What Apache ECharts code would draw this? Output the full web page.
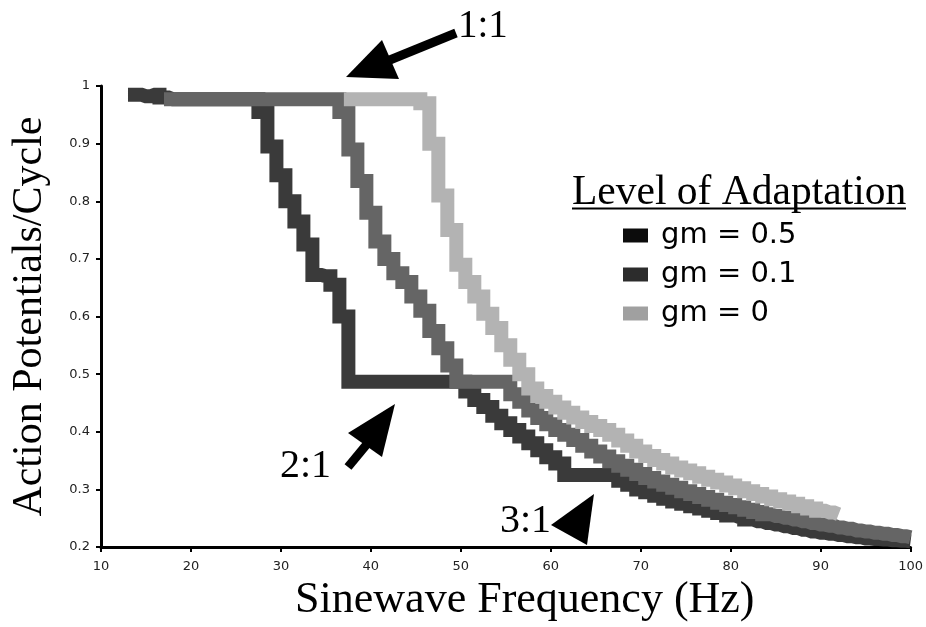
<!DOCTYPE html>
<html><head><meta charset="utf-8">
<script src="https://cdn.jsdelivr.net/npm/echarts@6/dist/echarts.min.js"></script>
<style>html,body{margin:0;padding:0;background:#fff}#c{width:926px;height:627px}</style>
</head><body><div id="c"></div>
<script>
// ---- data ----
const xTicks = [10, 20, 30, 40, 50, 60, 70, 80, 90, 100];
const yTicks = [0.2, 0.3, 0.4, 0.5, 0.6, 0.7, 0.8, 0.9, 1];
const seriesNames = ['gm = 0.5', 'gm = 0.1', 'gm = 0'];

const freqGm05 = [13,14,15,16,17,18,19,20,21,22,23,24,25,26,27,28,29,30,31,32,33,34,35,36,37,38,39,40,41,42,43,44,45,46,47,48,49,50,51,52,53,54,55,56,57,58,59,60,61,62,63,64,65,66,67,68,69,70,71,72,73,74,75,76,77,78,79,80,81,82,83,84,85,86,87,88,89,90,91,92,93,94,95,96,97,98,99,100];
const apcGm05 = [0.985,0.985,0.982,0.985,0.98,0.977,0.977,0.977,0.977,0.977,0.977,0.977,0.977,0.977,0.977,0.955,0.895,0.845,0.80,0.765,0.725,0.672,0.670,0.655,0.60,0.487,0.487,0.487,0.487,0.487,0.487,0.487,0.487,0.487,0.487,0.487,0.487,0.487,0.47,0.455,0.443,0.428,0.415,0.403,0.392,0.38,0.368,0.356,0.345,0.325,0.325,0.325,0.325,0.325,0.325,0.315,0.308,0.30,0.295,0.289,0.284,0.279,0.275,0.271,0.267,0.263,0.259,0.255,0.252,0.248,0.245,0.242,0.239,0.236,0.233,0.230,0.227,0.225,0.223,0.221,0.219,0.217,0.215,0.214,0.213,0.212,0.211,0.21];

const freqGm01 = [17,18,19,20,21,22,23,24,25,26,27,28,29,30,31,32,33,34,35,36,37,38,39,40,41,42,43,44,45,46,47,48,49,50,51,52,53,54,55,56,57,58,59,60,61,62,63,64,65,66,67,68,69,70,71,72,73,74,75,76,77,78,79,80,81,82,83,84,85,86,87,88,89,90,91,92,93,94,95,96,97,98,99,100];
const apcGm01 = [0.977,0.977,0.977,0.977,0.977,0.977,0.977,0.977,0.977,0.977,0.977,0.977,0.977,0.977,0.977,0.977,0.977,0.977,0.977,0.977,0.955,0.89,0.835,0.78,0.73,0.70,0.675,0.66,0.635,0.61,0.575,0.545,0.515,0.487,0.487,0.487,0.487,0.487,0.487,0.465,0.452,0.437,0.424,0.413,0.403,0.395,0.386,0.376,0.366,0.357,0.349,0.341,0.334,0.327,0.32,0.314,0.308,0.303,0.297,0.292,0.287,0.282,0.277,0.273,0.269,0.265,0.261,0.257,0.254,0.251,0.248,0.245,0.242,0.239,0.237,0.234,0.232,0.229,0.227,0.225,0.223,0.221,0.219,0.217];

const freqGm0 = [37,38,39,40,41,42,43,44,45,46,47,48,49,50,51,52,53,54,55,56,57,58,59,60,61,62,63,64,65,66,67,68,69,70,71,72,73,74,75,76,77,78,79,80,81,82,83,84,85,86,87,88,89,90,91,92];
const apcGm0 = [0.977,0.977,0.977,0.977,0.977,0.977,0.977,0.977,0.977,0.97,0.90,0.81,0.75,0.69,0.66,0.635,0.605,0.58,0.55,0.525,0.50,0.475,0.462,0.452,0.442,0.433,0.425,0.417,0.41,0.403,0.395,0.385,0.376,0.366,0.358,0.351,0.345,0.338,0.333,0.328,0.322,0.317,0.312,0.307,0.302,0.297,0.292,0.288,0.283,0.279,0.275,0.271,0.267,0.263,0.26,0.257];

const lineColors = ['#3a3a3a', '#656565', '#b3b3b3'];
const legendColors = ['#0c0c0c', '#2c2c2c', '#a0a0a0'];

const zip = (xs, ys) => xs.map((x, i) => [x, ys[i]]);
const seriesData = [zip(freqGm05, apcGm05), zip(freqGm01, apcGm01), zip(freqGm0, apcGm0)];

const chart = echarts.init(document.getElementById('c'), null, {renderer: 'canvas'});
const serif = 'Liberation Serif';
const sans = 'DejaVu Sans';

const option = {
  animation: false,
  backgroundColor: '#fff',
  grid: {left: 101, right: 15, top: 86, bottom: 76},
  xAxis: {
    type: 'value', min: xTicks[0], max: xTicks[xTicks.length - 1], interval: 10,
    axisLine: {onZero: false, lineStyle: {color: '#000', width: 3}},
    axisTick: {show: true, length: 5, lineStyle: {color: '#000', width: 2}},
    axisLabel: {fontFamily: sans, fontSize: 13, color: '#222', margin: 13},
    splitLine: {show: false},
    name: 'Sinewave Frequency (Hz)', nameLocation: 'middle', nameGap: 30,
    nameTextStyle: {fontFamily: serif, fontSize: 44, color: '#000', verticalAlign: 'top', padding: [0, 0, 0, 38]}
  },
  yAxis: {
    type: 'value', min: yTicks[0], max: yTicks[yTicks.length - 1], interval: 0.1,
    axisLine: {onZero: false, lineStyle: {color: '#000', width: 3}},
    axisTick: {show: true, length: 5, lineStyle: {color: '#000', width: 2}},
    axisLabel: {fontFamily: sans, fontSize: 13, color: '#222', margin: 11,
      formatter: v => String(Math.round(v * 10) / 10)},
    splitLine: {show: false},
    name: 'Action Potentials/Cycle', nameLocation: 'middle', nameGap: 50, nameRotate: 90,
    nameTextStyle: {fontFamily: serif, fontSize: 42, color: '#000'}
  },
  legend: {
    orient: 'vertical', left: 618, top: 215, itemWidth: 25, itemHeight: 14, itemGap: 8,
    icon: 'rect', selectedMode: false,
    textStyle: {fontFamily: sans, fontSize: 29, color: '#000', lineHeight: 31, padding: [0, 0, 0, 8]},
    data: seriesNames.map((n, i) => ({name: n, itemStyle: {color: legendColors[i], borderWidth: 0}}))
  },
  series: seriesNames.map((n, i) => ({
    name: n, type: 'line', step: 'middle', showSymbol: false, symbol: 'none',
    data: seriesData[i], z: 2 + i,
    itemStyle: {color: lineColors[i]},
    lineStyle: {color: lineColors[i], width: 14, join: 'miter', cap: 'butt'}
  })),
  graphic: [
    // legend title
    {type: 'text', left: 572, top: 172, style: {text: 'Level of Adaptation', font: '41.5px "Liberation Serif"', fill: '#000'}},
    {type: 'line', shape: {x1: 572, y1: 208.5, x2: 906, y2: 208.5}, style: {stroke: '#000', lineWidth: 2}},
    // 1:1 annotation
    {type: 'text', left: 458, top: 7, style: {text: '1:1', font: '39px "Liberation Serif"', fill: '#000'}},
    {type: 'line', shape: {x1: 456, y1: 33, x2: 380, y2: 64}, style: {stroke: '#000', lineWidth: 9}},
    {type: 'polygon', shape: {points: [[346, 77], [382, 40], [399, 79]]}, style: {fill: '#000'}},
    // 2:1 annotation
    {type: 'text', left: 280, top: 446, style: {text: '2:1', font: '40px "Liberation Serif"', fill: '#000'}},
    {type: 'line', shape: {x1: 348, y1: 467, x2: 372, y2: 438}, style: {stroke: '#000', lineWidth: 9}},
    {type: 'polygon', shape: {points: [[395, 404], [348, 433], [382, 457]]}, style: {fill: '#000'}},
    // 3:1 annotation
    {type: 'text', left: 500, top: 501, style: {text: '3:1', font: '40px "Liberation Serif"', fill: '#000'}},
    {type: 'polygon', shape: {points: [[551, 525], [594, 494], [587, 545]]}, style: {fill: '#000'}}
  ]
};
chart.setOption(option);
</script>
</body></html>
